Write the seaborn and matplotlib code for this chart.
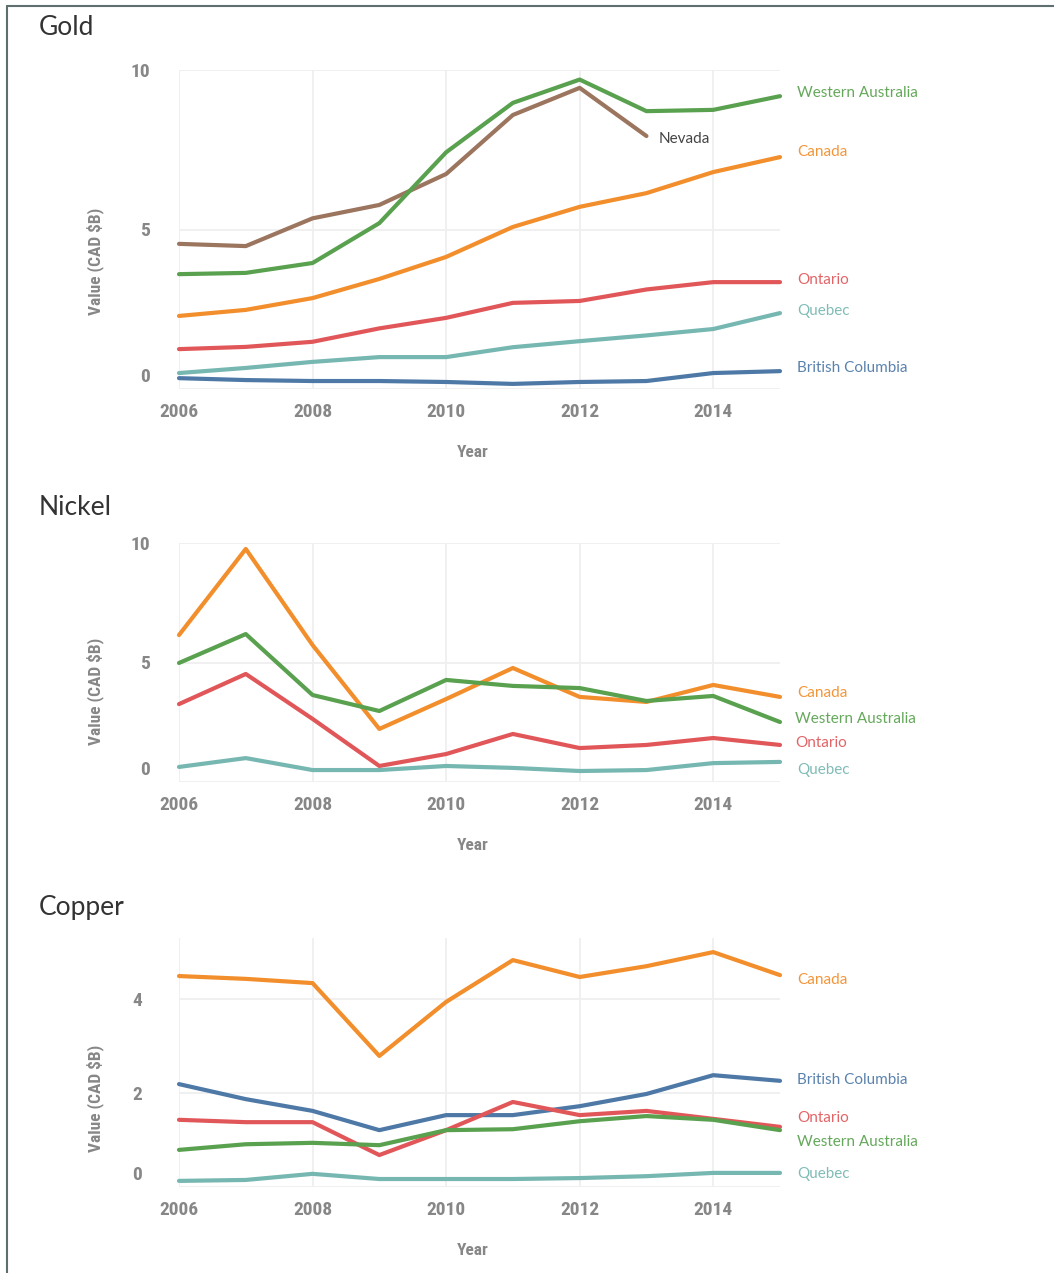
import matplotlib
matplotlib.use("Agg")

import matplotlib.pyplot as plt
import matplotlib.transforms as mtransforms
import pandas as pd
import seaborn as sns
from matplotlib.lines import Line2D


years = list(range(2006, 2016))

# Gold (CAD $B)
gold_western_australia = [3.60, 3.64, 3.95, 5.20, 7.42, 8.97, 9.70, 8.71, 8.75, 9.18]
gold_nevada = [4.55, 4.48, 5.35, 5.77, 6.74, 8.59, 9.44, 7.93]
gold_canada = [2.29, 2.48, 2.85, 3.45, 4.14, 5.08, 5.71, 6.14, 6.80, 7.27]
gold_ontario = [1.25, 1.32, 1.48, 1.90, 2.23, 2.70, 2.76, 3.12, 3.35, 3.35]
gold_quebec = [0.50, 0.66, 0.85, 1.00, 1.00, 1.31, 1.50, 1.68, 1.88, 2.38]
gold_british_columbia = [0.34, 0.28, 0.25, 0.25, 0.22, 0.16, 0.22, 0.25, 0.50, 0.56]

# Nickel (CAD $B)
nickel_canada = [6.15, 9.75, 5.73, 2.22, 3.47, 4.77, 3.56, 3.35, 4.06, 3.56]
nickel_western_australia = [4.98, 6.19, 3.64, 2.97, 4.27, 4.02, 3.93, 3.39, 3.60, 2.51]
nickel_ontario = [3.26, 4.52, 2.64, 0.67, 1.17, 2.01, 1.42, 1.55, 1.84, 1.55]
nickel_quebec = [0.63, 1.00, 0.50, 0.50, 0.67, 0.59, 0.46, 0.50, 0.79, 0.84]

# Copper (CAD $B)
copper_canada = [4.49, 4.43, 4.34, 2.79, 3.94, 4.83, 4.47, 4.70, 5.00, 4.51]
copper_british_columbia = [2.19, 1.87, 1.62, 1.21, 1.53, 1.53, 1.72, 1.98, 2.38, 2.26]
copper_ontario = [1.43, 1.38, 1.38, 0.68, 1.21, 1.81, 1.53, 1.62, 1.45, 1.28]
copper_western_australia = [0.79, 0.91, 0.94, 0.89, 1.21, 1.23, 1.40, 1.51, 1.43, 1.21]
copper_quebec = [0.13, 0.15, 0.28, 0.17, 0.17, 0.17, 0.19, 0.23, 0.30, 0.30]

x_ticks = [2006, 2008, 2010, 2012, 2014]

PALETTE = {
    "British Columbia": "#4e79a7",
    "Canada": "#f28e2b",
    "Nevada": "#9c755f",
    "Ontario": "#e15759",
    "Quebec": "#76b7b2",
    "Western Australia": "#59a14f",
}
LABEL_COLORS = {
    "British Columbia": "#5a82ad",
    "Canada": "#f3963a",
    "Nevada": "#444444",
    "Ontario": "#e36466",
    "Quebec": "#80bcb7",
    "Western Australia": "#65a85b",
}
HUE_ORDER = ["British Columbia", "Canada", "Nevada", "Ontario", "Quebec", "Western Australia"]

W, H = 1054, 1273
GRAY = "#878787"
TICK_FONT = ["Roboto Condensed", "Roboto", "DejaVu Sans"]


def long_frame(series: dict) -> pd.DataFrame:
    rows = []
    for region, values in series.items():
        for year, value in zip(years, values):
            rows.append({"year": year, "value": value, "region": region})
    return pd.DataFrame(rows)


panels = [
    {
        "title": "Gold",
        "series": {
            "Western Australia": gold_western_australia,
            "Nevada": gold_nevada,
            "Canada": gold_canada,
            "Ontario": gold_ontario,
            "Quebec": gold_quebec,
            "British Columbia": gold_british_columbia,
        },
        "yticks": [0, 5, 10],
        "ylim": (0, 10),
        "box": (70, 389),
        "title_y": 35,
        "ytick_pad": 29,
        "ylabel_y": 0.40,
        # label nudges in pixels (dx, dy)
        "nudges": {
            "Western Australia": (17, 3), "Nevada": (12, -3), "Canada": (17, 5),
            "Ontario": (17, 2), "Quebec": (17, 2), "British Columbia": (17, 3),
        },
    },
    {
        "title": "Nickel",
        "series": {
            "Canada": nickel_canada,
            "Western Australia": nickel_western_australia,
            "Ontario": nickel_ontario,
            "Quebec": nickel_quebec,
        },
        "yticks": [0, 5, 10],
        "ylim": (0, 10),
        "box": (543, 782),
        "title_y": 515,
        "ytick_pad": 29,
        "ylabel_y": 0.38,
        "nudges": {
            "Canada": (17, 4), "Western Australia": (15, 3),
            "Ontario": (15, 2), "Quebec": (17, -8),
        },
    },
    {
        "title": "Copper",
        "series": {
            "Canada": copper_canada,
            "British Columbia": copper_british_columbia,
            "Ontario": copper_ontario,
            "Western Australia": copper_western_australia,
            "Quebec": copper_quebec,
        },
        "yticks": [0, 2, 4],
        "ylim": (0, 5.3),
        "box": (938, 1187),
        "title_y": 915,
        "ytick_pad": 37,
        "ylabel_y": 0.355,
        "nudges": {
            "Canada": (17, -5), "British Columbia": (17, 1), "Ontario": (17, 9),
            "Western Australia": (17, -12), "Quebec": (17, -1),
        },
    },
]

sns.set_style("white")
plt.rcParams["font.family"] = ["Lato", "DejaVu Sans"]

fig = plt.figure(figsize=(W / 100, H / 100), dpi=100)

for panel in panels:
    top, bottom = panel["box"]
    ax = fig.add_axes([179 / W, 1 - bottom / H, 601 / W, (bottom - top) / H])
    df = long_frame(panel["series"])
    order = [r for r in HUE_ORDER if r in panel["series"]]
    sns.lineplot(
        data=df, x="year", y="value", hue="region", hue_order=order,
        palette=PALETTE, linewidth=3.0, legend=False, ax=ax,
        solid_capstyle="round", solid_joinstyle="round", clip_on=False, zorder=3,
    )
    ax.set_xlim(2006, 2015)
    ax.set_ylim(*panel["ylim"])
    ax.set_xticks(x_ticks)
    ax.set_yticks(panel["yticks"])
    ax.grid(True, color="#efefef", linewidth=1.3, zorder=0)
    for side in ax.spines.values():
        side.set_visible(False)
    ax.tick_params(axis="both", length=0, colors=GRAY, labelsize=14)
    ax.tick_params(axis="x", pad=10)
    ax.tick_params(axis="y", pad=panel["ytick_pad"] * 0.72)
    for lab in ax.get_xticklabels() + ax.get_yticklabels():
        lab.set_fontfamily(TICK_FONT)
        lab.set_fontweight("bold")

    ax.set_xlabel("Year", fontsize=12.5, color=GRAY, fontweight="bold", family=TICK_FONT)
    ax.set_ylabel("Value (CAD $B)", fontsize=12.5, color=GRAY, fontweight="bold", family=TICK_FONT)
    height_px = bottom - top
    ax.xaxis.set_label_coords((473 - 179) / 601, -56 / height_px)
    ax.yaxis.set_label_coords((104 - 179) / 601, panel["ylabel_y"])

    # zero label sits flush above the baseline
    zero_label = ax.get_yticklabels()[0]
    zero_label.set_transform(
        zero_label.get_transform() + mtransforms.ScaledTranslation(0, 14 / 100, fig.dpi_scale_trans)
    )

    for region, values in panel["series"].items():
        dx, dy = panel["nudges"][region]
        ax.annotate(
            region, xy=(years[len(values) - 1], values[-1]), xytext=(dx, dy),
            textcoords="offset pixels", ha="left", va="center",
            fontsize=11, fontweight="normal", color=LABEL_COLORS[region],
            annotation_clip=False,
        )

    fig.text(39 / W, 1 - panel["title_y"] / H, panel["title"], fontsize=19,
             color="#333333", va="baseline", ha="left")

# frame on the left and top edges
fig.add_artist(Line2D([7 / W, 7 / W], [0, 1 - 6 / H], transform=fig.transFigure,
                      color="#5f6f6f", linewidth=1.5))
fig.add_artist(Line2D([7 / W, 1], [1 - 6 / H, 1 - 6 / H], transform=fig.transFigure,
                      color="#5f6f6f", linewidth=1.5))

fig.savefig("out.png", dpi=100)
